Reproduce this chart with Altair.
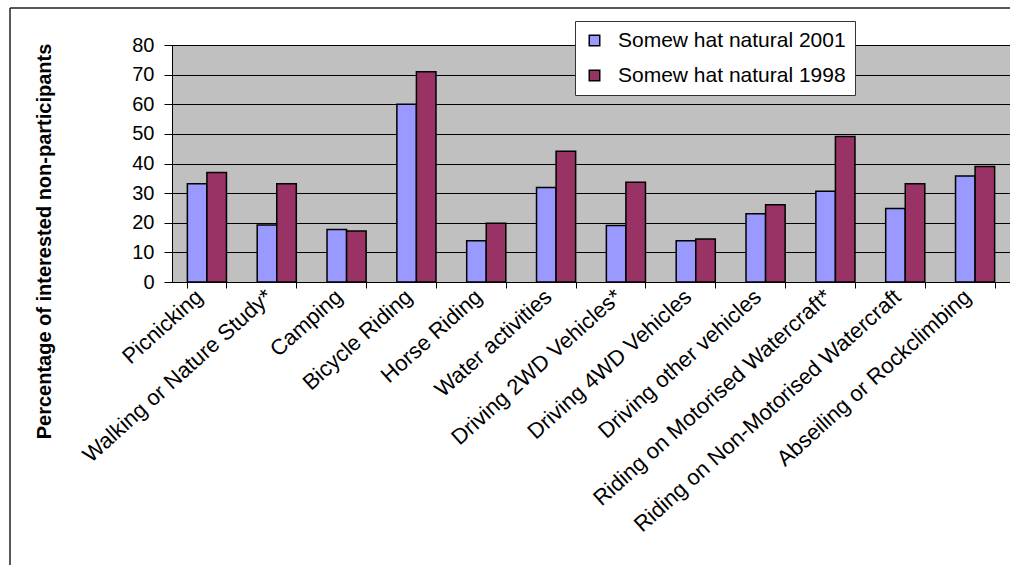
import altair as alt
import pandas as pd

# Outdoor activities in "somewhat natural" settings
activities = [
    "Picnicking",
    "Walking or Nature Study*",
    "Camping",
    "Bicycle Riding",
    "Horse Riding",
    "Water activities",
    "Driving 2WD Vehicles*",
    "Driving 4WD Vehicles",
    "Driving other vehicles",
    "Riding on Motorised Watercraft*",
    "Riding on Non-Motorised Watercraft",
    "Abseiling or Rockclimbing",
]

series_names = ["Somew hat natural 2001", "Somew hat natural 1998"]
series_colors = ["#9999FF", "#993366"]

pct_2001 = [33.2, 19.2, 17.7, 60.0, 13.9, 31.9, 19.1, 13.9, 23.0, 30.6, 24.8, 35.8]
pct_1998 = [37.0, 33.2, 17.2, 71.0, 19.8, 44.1, 33.7, 14.5, 26.1, 49.1, 33.2, 39.0]

y_ticks = [0, 10, 20, 30, 40, 50, 60, 70, 80]

rows = []
for name, a, b in zip(activities, pct_2001, pct_1998):
    rows.append({"activity": name, "series": series_names[0], "value": a})
    rows.append({"activity": name, "series": series_names[1], "value": b})
df = pd.DataFrame(rows)

FONT = "Liberation Sans"

bars = alt.Chart(df).mark_bar(stroke="black", strokeWidth=1.5).encode(
    x=alt.X(
        "activity:N",
        sort=activities,
        scale=alt.Scale(paddingInner=0.44, paddingOuter=0.22),
        axis=alt.Axis(
            title=None,
            labelAngle=318,
            labelAlign="right",
            labelBaseline="bottom",
            labelFontSize=22,
            labelPadding=14,
            tickBand="extent",
            tickSize=6,
            labelLimit=500,
        ),
    ),
    xOffset=alt.XOffset("series:N", sort=series_names),
    y=alt.Y(
        "value:Q",
        scale=alt.Scale(domain=[0, 80], nice=False),
        axis=alt.Axis(
            values=y_ticks,
            title="Percentage of interested non-participants",
            titleFontSize=20,
            titleFontWeight="bold",
            titleAngle=270,
            titleBaseline="alphabetic",
            titleX=-122,
            titleY=196,
            labelFontSize=20,
            labelPadding=10,
            tickSize=8,
        ),
    ),
    color=alt.Color(
        "series:N",
        sort=series_names,
        scale=alt.Scale(domain=series_names, range=series_colors),
        legend=alt.Legend(
            title=None,
            orient="none",
            legendX=403,
            legendY=-24,
            fillColor="white",
            strokeColor="#333333",
            padding=9,
            symbolType="square",
            symbolSize=110,
            symbolStrokeColor="black",
            symbolStrokeWidth=1.5,
            symbolOpacity=1,
            labelFontSize=21,
            labelOffset=13,
            rowPadding=13,
            labelLimit=400,
        ),
    ),
)

# Outer chart frame (left and top edges)
frame_df = pd.DataFrame({"edge": ["left"]})
frame_left = alt.Chart(frame_df).mark_rule(color="#222222", strokeWidth=1.5).encode(
    x=alt.value(-162), y=alt.value(-37), y2=alt.value(520)
)
frame_top = alt.Chart(frame_df).mark_rule(color="#222222", strokeWidth=1.5).encode(
    x=alt.value(-162), x2=alt.value(838), y=alt.value(-37)
)

chart = (
    alt.layer(bars, frame_left, frame_top)
    .properties(
        width=838,
        height=237,
        autosize=alt.AutoSizeParams(type="none"),
        padding={"left": 172, "top": 45, "right": 0, "bottom": 283},
        background="white",
    )
    .configure_view(fill="#C0C0C0", stroke="#808080", strokeWidth=1)
    .configure_axis(
        labelFont=FONT,
        titleFont=FONT,
        labelColor="black",
        titleColor="black",
        domainColor="black",
        tickColor="black",
        gridColor="black",
        gridWidth=1,
        domainWidth=1,
    )
    .configure_legend(labelFont=FONT, labelColor="black")
)

chart.save("out.html", embed_options={"renderer": "svg", "actions": False})
